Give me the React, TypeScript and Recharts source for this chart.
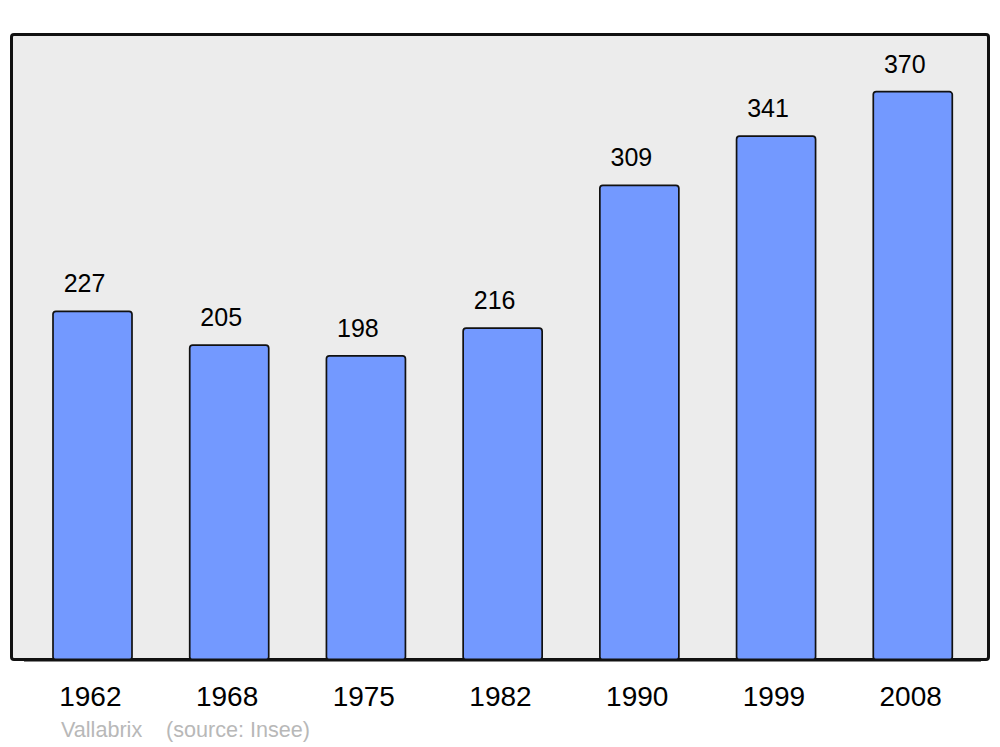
import { BarChart, Bar, XAxis, YAxis, LabelList } from "recharts";

// Population of Vallabrix by census year (Insee)
const years = ["1962", "1968", "1975", "1982", "1990", "1999", "2008"];
const population = [227, 205, 198, 216, 309, 341, 370];

const data = years.map((year, i) => ({ year, pop: population[i] }));

const FONT = '"Liberation Sans", Arial, sans-serif';
const footer = { position: "absolute" as const, top: 717, fontSize: 21.6, color: "#b8b8b8", whiteSpace: "pre" as const };

export default function App() {
  return (
    <div style={{ position: "absolute", left: 0, top: 0, width: 1000, height: 747, background: "#fff", fontFamily: FONT }}>
      {/* framed plot background */}
      <div
        style={{
          position: "absolute",
          left: 10,
          top: 33,
          width: 980,
          height: 628,
          boxSizing: "border-box",
          border: "3px solid #111",
          borderRadius: 4,
          background: "#ececec",
        }}
      />
      <div style={{ position: "absolute", left: 0, top: 0 }}>
        <BarChart width={1000} height={747} data={data} margin={{ top: 34, right: 19, left: 24, bottom: 27 }}>
          <YAxis hide domain={[0, 407.5]} />
          <XAxis
            dataKey="year"
            height={60}
            tickLine={false}
            tickSize={0}
            tickMargin={26}
            axisLine={{ stroke: "#111", strokeWidth: 3 }}
            tick={{ fontSize: 28, fill: "#000", fontFamily: FONT, dx: -2 }}
          />
          <Bar dataKey="pop" fill="#7399ff" stroke="#111" strokeWidth={1.7} barSize={79} radius={3} isAnimationActive={false}>
            <LabelList
              dataKey="pop"
              position="top"
              offset={19}
              dx={-8}
              style={{ fontSize: 25, fill: "#000", fontFamily: FONT }}
            />
          </Bar>
        </BarChart>
      </div>
      <div style={{ ...footer, left: 61 }}>Vallabrix</div>
      <div style={{ ...footer, left: 166 }}>(source: Insee)</div>
    </div>
  );
}
